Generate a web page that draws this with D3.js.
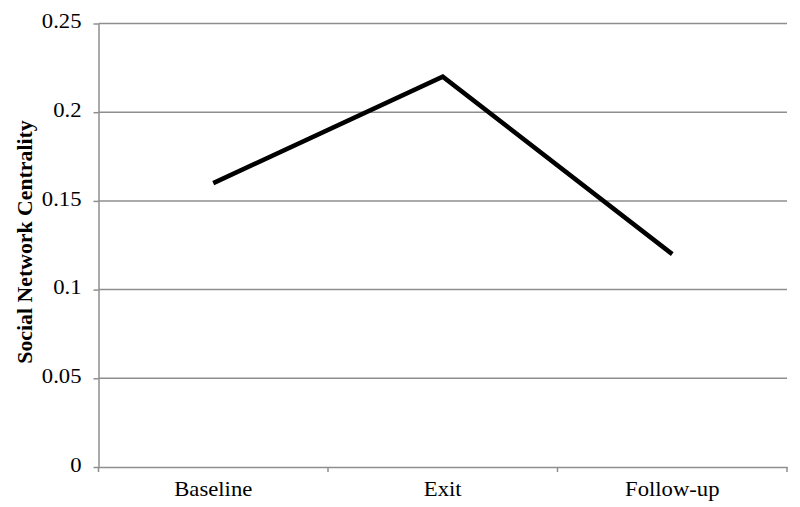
<!DOCTYPE html>
<html>
<head>
  <meta charset="utf-8">
  <title>Social Network Centrality</title>
  <script src="https://d3js.org/d3.v7.min.js"></script>
  <style>
    body, html { margin: 0; padding: 0; background: #fff; }
    svg { display: block; }
    .tick text { font-family: "Liberation Serif", "Times New Roman", serif; font-size: 21px; fill: #000; }
    .title { font-family: "Liberation Serif", "Times New Roman", serif; font-size: 21.8px; font-weight: bold; }
  </style>
</head>
<body>
<svg width="800" height="507"></svg>
<script>
  // Data
  const categories = ["Baseline", "Exit", "Follow-up"];
  const values = [0.16, 0.22, 0.12];
  const yTicks = [0, 0.05, 0.1, 0.15, 0.2, 0.25];
  const yTickLabels = ["0", "0.05", "0.1", "0.15", "0.2", "0.25"];

  const svg = d3.select("svg");
  const margin = { top: 23.5, right: 13, bottom: 40, left: 98.5 };
  const width = 800, height = 507;
  const gridColor = "#8e8e8e";
  const stretch = 1.08; // reference text is a bit wide

  const x = d3.scaleBand()
    .domain(categories)
    .range([margin.left, width - margin.right]);

  const y = d3.scaleLinear()
    .domain([0, 0.25])
    .range([height - margin.bottom, margin.top]);

  // Horizontal gridlines
  svg.append("g")
    .selectAll("line")
    .data(yTicks.slice(1))
    .enter()
    .append("line")
    .attr("x1", margin.left)
    .attr("x2", width - margin.right)
    .attr("y1", d => y(d))
    .attr("y2", d => y(d))
    .attr("stroke", gridColor)
    .attr("stroke-width", 1.5);

  // Y axis
  const yAxis = svg.append("g")
    .attr("transform", `translate(${margin.left},0)`)
    .call(d3.axisLeft(y)
      .tickValues(yTicks)
      .tickFormat((d, i) => yTickLabels[i])
      .tickSize(5)
      .tickPadding(12)
      .tickSizeOuter(0));
  yAxis.select(".domain").attr("stroke", gridColor).attr("stroke-width", 1.5);
  yAxis.selectAll(".tick line").attr("stroke", gridColor).attr("stroke-width", 1.5);
  yAxis.selectAll(".tick text")
    .attr("x", -17 / stretch)
    .attr("dy", "0.2em")
    .attr("transform", `scale(${stretch},1)`);

  // X axis with ticks on band boundaries
  const xAxis = svg.append("g")
    .attr("transform", `translate(0,${y(0)})`)
    .call(d3.axisBottom(x).tickSize(0).tickPadding(14).tickSizeOuter(0));
  xAxis.select(".domain").attr("stroke", gridColor).attr("stroke-width", 1.5);
  xAxis.selectAll(".tick line").remove();
  xAxis.selectAll(".tick text").attr("transform", `scale(${stretch},1)`);

  const bounds = categories.map(c => x(c)).concat([x(categories[categories.length - 1]) + x.bandwidth()]);
  svg.append("g")
    .selectAll("line")
    .data(bounds)
    .enter()
    .append("line")
    .attr("x1", d => d)
    .attr("x2", d => d)
    .attr("y1", y(0))
    .attr("y2", y(0) + 5)
    .attr("stroke", gridColor)
    .attr("stroke-width", 1.5);

  // Axis title
  svg.append("text")
    .attr("class", "title")
    .attr("transform", `translate(32,242) rotate(-90)`)
    .attr("text-anchor", "middle")
    .text("Social Network Centrality");

  // The line
  const line = d3.line()
    .x((d, i) => x(categories[i]) + x.bandwidth() / 2)
    .y(d => y(d));

  svg.append("path")
    .datum(values)
    .attr("d", line)
    .attr("fill", "none")
    .attr("stroke", "#000")
    .attr("stroke-width", 4.5)
    .attr("stroke-linejoin", "miter");
</script>
</body>
</html>
